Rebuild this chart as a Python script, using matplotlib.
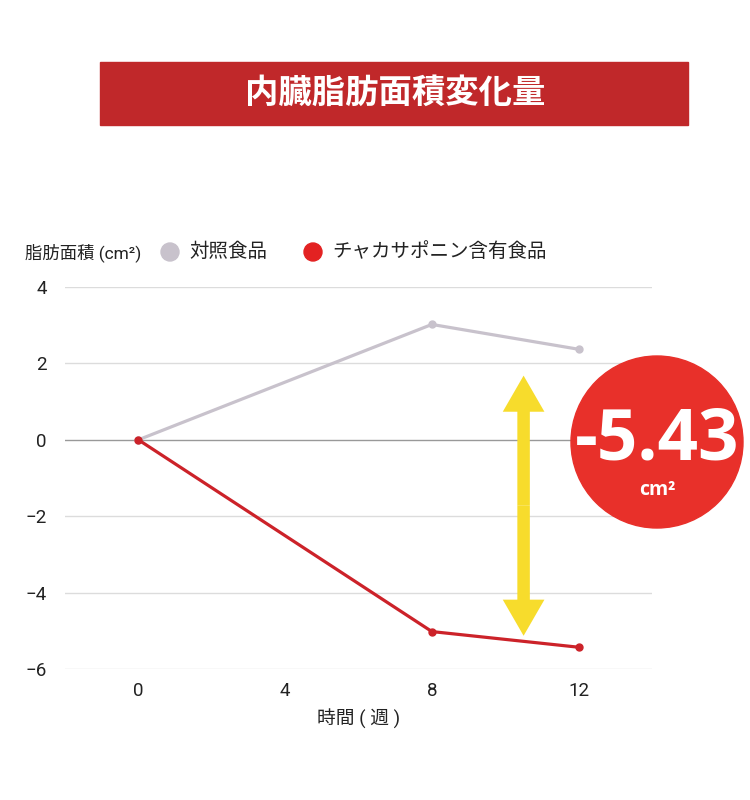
import matplotlib
matplotlib.use("Agg")
import matplotlib.pyplot as plt
from matplotlib.patches import Rectangle, Circle, FancyArrowPatch, ArrowStyle

plt.rcParams['font.family'] = ['Roboto', 'Noto Sans CJK JP', 'DejaVu Sans']

# data
weeks = [0, 8, 12]
control = [0, 3.02, 2.37]
chaka = [0, -5.02, -5.43]
xticks = [0, 4, 8, 12]
yticks = [-6, -4, -2, 0, 2, 4]
title = '内臓脂肪面積変化量'
ylabel = '脂肪面積 (cm²)'
name_control = '対照食品'
name_chaka = 'チャカサポニン含有食品'
xlabel = '時間 ( 週 )'
badge_value = '-5.43'
arrow_x = 10.5
arrow_top, arrow_bottom = 1.68, -5.13

gray = '#c8c2cc'
red = '#cc2229'

fig = plt.figure(figsize=(7.5, 8), dpi=100)

ax = fig.add_axes([65/750, 1-669/800, (652-65)/750, (669-287)/800])
ax.plot(weeks, control, color=gray, lw=2.3, marker='o', ms=5, zorder=3)
ax.plot(weeks, chaka, color=red, lw=2.3, marker='o', ms=5, zorder=3)
ax.set_xlim(-2, 14)
ax.set_ylim(-6, 4)
ax.set_xticks(xticks)
ax.set_yticks(yticks)
for y in yticks:
    ax.axhline(y, color='#999999' if y == 0 else '#dcdcdc', lw=1, zorder=1)
for s in ax.spines.values():
    s.set_visible(False)
ax.tick_params(length=0, labelsize=13.5, colors='#222222')
ax.tick_params(axis='y', pad=13)
ax.tick_params(axis='x', pad=9)
ax.set_xlabel(xlabel, fontsize=13.5, color='#222222', labelpad=7)

# yellow double arrow
mid = (arrow_top + arrow_bottom) / 2
style = ArrowStyle.Simple(head_length=2.6, head_width=3.0, tail_width=0.9)
for end in (arrow_top, arrow_bottom):
    ax.add_patch(FancyArrowPatch((arrow_x, mid), (arrow_x, end), arrowstyle=style,
                                 mutation_scale=10, color='#f7dc2c', lw=0,
                                 shrinkA=0, shrinkB=0, zorder=4))

# overlay in pixel coordinates
ov = fig.add_axes([0, 0, 1, 1], facecolor='none')
ov.set_xlim(0, 750)
ov.set_ylim(800, 0)
ov.axis('off')

ov.add_patch(Rectangle((100, 62), 588, 63, color='#c0282a'))
ov.text(395, 93, title, color='white', fontsize=24, fontweight='bold',
        ha='center', va='center', family=['Noto Sans CJK JP'])

ov.add_patch(Circle((657, 442), 86, color='#e8302a', zorder=5))
ov.text(657, 440, badge_value, color='white', fontsize=51, fontweight='bold',
        ha='center', va='center', family=['Open Sans'], zorder=6)
ov.text(657, 490, 'cm²', color='white', fontsize=14, fontweight='bold',
        ha='center', va='center', family=['Open Sans'], zorder=6)

ov.text(25, 253, ylabel, fontsize=12.5, color='#222222', ha='left', va='center')
ov.add_patch(Circle((170, 252), 9, color=gray))
ov.text(189, 252, name_control, fontsize=14, color='#222222', ha='left', va='center')
ov.add_patch(Circle((313, 252), 9, color='#e32222'))
ov.text(332, 252, name_chaka, fontsize=14, color='#222222', ha='left', va='center')

fig.savefig('out.png', dpi=100, facecolor='white')
